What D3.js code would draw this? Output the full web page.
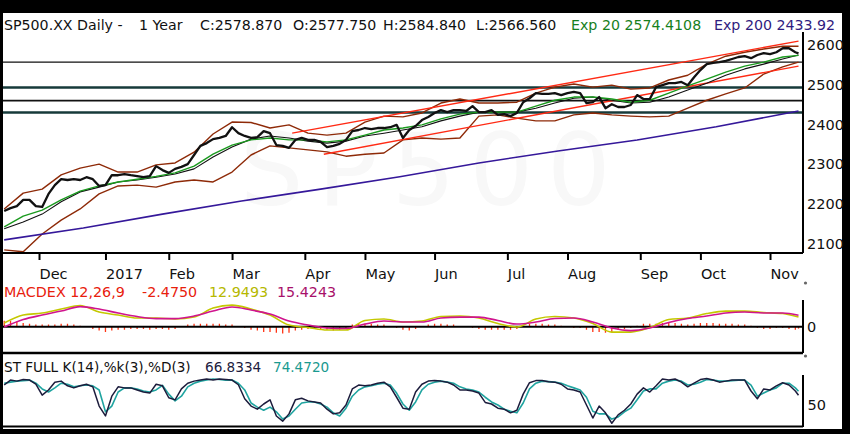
<!DOCTYPE html>
<html>
<head>
<meta charset="utf-8">
<script src="https://cdn.jsdelivr.net/npm/d3@7"></script>
<style>
  body { margin: 0; background: #000; }
  svg { display: block; }
  text { font-family: "DejaVu Sans", Verdana, sans-serif; }
</style>
</head>
<body>
<div id="vis"></div>
<script>
const W = 850;
const H = 434;
const LAST_DAY = 251; // trading days since Nov 15 2016

// x axis: month starts (trading-day index) and labels
const monthDays = [11, 32, 52, 72, 95, 114, 136, 159, 178, 201, 220, 242];
const monthLabels = ["Dec", "2017", "Feb", "Mar", "Apr", "May", "Jun", "Jul", "Aug", "Sep", "Oct", "Nov"];
const priceTicks = [2100, 2200, 2300, 2400, 2500, 2600];

// daily close, one value every 2 trading days (last one = final day)
const closes = [
  2182, 2189, 2194, 2210, 2210, 2194, 2192, 2225, 2247, 2262,
  2260, 2262, 2260, 2267, 2262, 2245, 2247, 2272, 2272, 2275,
  2272, 2270, 2267, 2270, 2295, 2285, 2278, 2288, 2293, 2300,
  2323, 2346, 2353, 2363, 2366, 2371, 2393, 2378, 2371, 2366,
  2368, 2383, 2378, 2348, 2346, 2341, 2361, 2366, 2361, 2361,
  2356, 2343, 2346, 2351, 2361, 2383, 2386, 2391, 2388, 2391,
  2391, 2393, 2399, 2366, 2386, 2396, 2411, 2419, 2429, 2436,
  2431, 2436, 2436, 2434, 2446, 2431, 2431, 2436, 2424, 2426,
  2421, 2429, 2456, 2466, 2479, 2477, 2477, 2479, 2474, 2479,
  2482, 2479, 2454, 2456, 2469, 2441, 2451, 2444, 2444, 2449,
  2474, 2464, 2464, 2494, 2499, 2504, 2504, 2507, 2499, 2519,
  2537, 2552, 2555, 2557, 2560, 2565, 2570, 2572, 2567, 2575,
  2580, 2577, 2582, 2592, 2592, 2582, 2579
];

// indicators read every 6 trading days
const bbUpper = [
  2187, 2227, 2237, 2273, 2290, 2300, 2280, 2280, 2298, 2303,
  2330, 2376, 2406, 2405, 2391, 2399, 2378, 2373, 2378, 2406,
  2421, 2419, 2429, 2454, 2464, 2454, 2454, 2456, 2479, 2494,
  2502, 2494, 2499, 2489, 2492, 2512, 2524, 2552, 2572, 2582,
  2590, 2597, 2597
];
const bbLower = [
  2084, 2079, 2124, 2159, 2187, 2225, 2245, 2247, 2242, 2255,
  2260, 2255, 2280, 2323, 2346, 2341, 2336, 2331, 2320, 2325,
  2328, 2361, 2366, 2363, 2366, 2421, 2424, 2416, 2409, 2409,
  2424, 2429, 2424, 2421, 2419, 2421, 2441, 2461, 2477, 2492,
  2527, 2545, 2557
];
const bbMid = [
  2137, 2154, 2174, 2205, 2230, 2242, 2255, 2260, 2267, 2275,
  2288, 2318, 2343, 2363, 2371, 2366, 2358, 2353, 2358, 2371,
  2378, 2386, 2394, 2409, 2421, 2431, 2431, 2431, 2441, 2454,
  2466, 2469, 2461, 2454, 2456, 2469, 2487, 2504, 2524, 2540,
  2552, 2565, 2575
];
const ema20 = [
  2142, 2169, 2184, 2210, 2232, 2245, 2255, 2262, 2269, 2278,
  2295, 2325, 2348, 2361, 2366, 2361, 2361, 2356, 2361, 2373,
  2386, 2391, 2399, 2414, 2426, 2431, 2431, 2431, 2446, 2461,
  2469, 2469, 2464, 2456, 2461, 2479, 2497, 2514, 2532, 2547,
  2557, 2570, 2574
];
const ema200Days = [0, 25, 50, 75, 100, 125, 150, 175, 200, 225, 251];
const ema200 = [2109, 2139, 2174, 2207, 2237, 2268, 2303, 2333, 2361, 2394, 2434];

// support / resistance levels and channel
const levels = [2557, 2493, 2460, 2430];
const channelUpper = [[91, 2378], [251, 2610]];
const channelLower = [[101, 2325], [251, 2547]];

// MACD (every 6 days) and histogram (every 2 days)
const macdLine = [
  4.9, 15.6, 18.3, 23.6, 28.3, 19.6, 15.6, 11.6, 11.6, 10.3,
  12.9, 24.9, 28.9, 23.6, 15.6, 2.3, -1.1, -4.4, -4.4, 8.3,
  10.3, 6.3, 7.6, 13.6, 14.3, 11.6, 4.3, -0.4, 10.3, 13.6,
  11.6, 4.3, -7.1, -7.1, -1.1, 9.6, 11.6, 17.6, 20.9, 20.9,
  18.9, 17.6, 12.9
];
const macdSignal = [
  -0.4, 9.6, 15.6, 20.9, 26.9, 23.6, 18.3, 13.6, 10.9, 10.9,
  14.3, 20.9, 26.3, 22.3, 16.9, 7.6, 2.3, -1.7, -2.4, 3.6,
  7.6, 6.3, 6.3, 11.6, 12.9, 12.9, 8.3, 3.6, 6.3, 10.9,
  11.6, 6.3, -1.7, -5.1, -1.7, 5.6, 10.9, 14.3, 18.3, 19.6,
  18.3, 18.3, 15.4
];
const macdHist = [
  8, 8, 7, 5, 4, 3, 3, 3, 3, 4,
  4, 3, 1.5, 0, -3, -5, -7, -5, -4, -4,
  -3, -3, -3, -4, -3, -3, -4, -3, 0, 3,
  4, 4, 4, 4, 4, 3, 3, 1, -1.5, -4,
  -5, -7, -7, -8, -9, -8, -5, -4, -3, -3,
  -3, -4, -5, -4, -1.5, 3, 4, 4, 4, 3,
  3, 1, -1.5, -4, -5, -3, 0, 3, 4, 4,
  3, 3, 1, 0, -1.5, -3, -4, -4, -4, -4,
  -4, -3, 1.5, 4, 4, 4, 3, 3, 1.5, 0,
  -1.5, -1.5, -4, -7, -7, -8, -7, -4, -3, -1.5,
  1.5, 4, 4, 4, 5, 5, 5, 4, 3, 4,
  5, 5, 5, 4, 4, 4, 3, 3, 1.5, -1.5,
  -3, -3, -1.5, -1.5, -3, -4, -2.5
];

// full stochastic (every 2 days)
const stochK = [
  86.5, 96, 94, 97, 96, 88, 67, 77, 92, 94,
  85, 81, 85, 88, 83, 46, 27, 65, 83, 81,
  81, 77, 73, 71, 88, 85, 62, 58, 79, 90,
  94, 96, 98, 96, 98, 97, 96, 87, 60, 46,
  40, 50, 58, 27, 17, 31, 58, 61, 56, 54,
  52, 40, 31, 33, 48, 79, 86.5, 85, 86.5, 90,
  92, 83, 63, 42, 40, 73, 88, 94, 95, 94,
  92, 86.5, 77, 77, 75, 71, 53, 50, 42, 40,
  33, 38, 69, 91, 95, 95, 93, 92, 88, 79,
  77, 73, 48, 23, 46, 33, 13, 29, 38, 50,
  69, 81, 73, 85, 98, 96, 98, 92, 83, 90,
  97, 99, 96, 92, 94, 96, 96, 96, 75, 60,
  79, 77, 85, 91, 86.5, 75, 66.8
];
const stochD = [
  90, 92, 94, 95, 96, 90, 79, 73, 81, 90,
  88, 83, 85, 86.5, 85, 77, 35, 46, 73, 81,
  81, 79, 75, 73, 77, 86, 69, 56, 65, 83,
  90, 94, 96, 98, 97, 96, 96, 90, 77, 52,
  44, 38, 44, 35, 21, 27, 40, 52, 54, 54,
  50, 44, 33, 27, 42, 65, 77, 83, 85, 88,
  90, 86.5, 71, 50, 38, 54, 77, 88, 92, 94,
  92, 90, 83, 79, 77, 73, 63, 54, 48, 40,
  36, 33, 52, 79, 90, 94, 93, 92, 90, 85,
  81, 77, 63, 36, 31, 31, 21, 25, 35, 42,
  58, 75, 79, 79, 90, 94, 96, 94, 86.5, 88,
  92, 97, 96, 94, 94, 95, 96, 96, 86.5, 65,
  71, 77, 81, 90, 90, 81, 74.5
];

// turn a sampled series into points on the trading-day axis
function toPoints(values, step) {
  return values.map((v, i) => ({ day: Math.min(i * step, LAST_DAY), v: v }));
}

function init() {
  const svg = d3
    .select("#vis")
    .append("svg")
    .attr("width", W)
    .attr("height", H);

  svg.append("rect").attr("width", W).attr("height", H).attr("fill", "#000");
  svg
    .append("rect")
    .attr("x", 3)
    .attr("y", 13)
    .attr("width", 839)
    .attr("height", 416)
    .attr("fill", "#fff");

  const x = d3.scaleLinear().domain([0, LAST_DAY]).range([4.2, 798.5]);
  const yPrice = d3.scaleLinear().domain([2076, 2633]).range([253, 32]);
  const yMacd = d3.scaleLinear().domain([-35, 35]).range([353, 300.5]);
  const yStoch = d3.scaleLinear().domain([0, 100]).range([430, 378]);

  const defs = svg.append("defs");
  const clip = (id, y0, y1) =>
    defs
      .append("clipPath")
      .attr("id", id)
      .append("rect")
      .attr("x", 3)
      .attr("y", y0)
      .attr("width", 800)
      .attr("height", y1 - y0);
  clip("clip-main", 32, 252);
  clip("clip-macd", 298, 352);
  clip("clip-stoch", 374, 425);
  // header text stops at the white frame
  defs
    .append("clipPath")
    .attr("id", "clip-frame")
    .append("rect")
    .attr("x", 3)
    .attr("y", 13)
    .attr("width", 839)
    .attr("height", 416);

  // faint watermark
  svg
    .append("text")
    .attr("x", 240)
    .attr("y", 205)
    .attr("font-size", 100)
    .attr("letter-spacing", 14)
    .attr("fill", "#f8f8f8")
    .text("SP500");

  // ---- header ----
  const header = [
    ["SP500.XX Daily -", 4, "#111"],
    ["1 Year", 139, "#111"],
    ["C:2578.870", 200, "#111"],
    ["O:2577.750", 293, "#111"],
    ["H:2584.840", 383, "#111"],
    ["L:2566.560", 476, "#111"],
    ["Exp 20 2574.4108", 571, "#17801c"],
    ["Exp 200 2433.92", 714, "#2f1c80"],
  ];
  svg
    .append("g")
    .attr("clip-path", "url(#clip-frame)")
    .selectAll(".hdr")
    .data(header)
    .enter()
    .append("text")
    .attr("class", "hdr")
    .attr("x", (d) => d[1])
    .attr("y", 30)
    .attr("font-size", 14.2)
    .attr("fill", (d) => d[2])
    .text((d) => d[0]);

  // ---- main price panel ----
  const main = svg.append("g").attr("clip-path", "url(#clip-main)");
  const priceLine = d3
    .line()
    .x((d) => x(d.day))
    .y((d) => yPrice(d.v));

  main
    .selectAll(".level")
    .data(levels)
    .enter()
    .append("line")
    .attr("x1", 3)
    .attr("x2", 803)
    .attr("y1", (d) => yPrice(d))
    .attr("y2", (d) => yPrice(d))
    .attr("stroke", (d, i) => (i % 2 ? "#163a3a" : "#111"))
    .attr("stroke-width", (d, i) => (i === 0 ? 1.2 : i === 2 ? 1.6 : 2.6));

  const addPath = (g, pts, lineFn, color, width) =>
    g
      .append("path")
      .attr("d", lineFn(pts))
      .attr("fill", "none")
      .attr("stroke", color)
      .attr("stroke-width", width)
      .attr("stroke-linejoin", "round");

  addPath(main, toPoints(bbUpper, 6), priceLine, "#8e2a08", 1.4);
  addPath(main, toPoints(bbLower, 6), priceLine, "#8e2a08", 1.4);
  addPath(
    main,
    ema200.map((v, i) => ({ day: ema200Days[i], v: v })),
    priceLine,
    "#35189a",
    1.6
  );
  [channelUpper, channelLower].forEach((c) =>
    addPath(main, c.map((p) => ({ day: p[0], v: p[1] })), priceLine, "#ff2a14", 1.4)
  );
  addPath(main, toPoints(bbMid, 6), priceLine, "#111", 1.1);
  addPath(main, toPoints(ema20, 6), priceLine, "#1a9a1e", 1.4);
  addPath(main, toPoints(closes, 2), priceLine, "#111", 2.3);

  // price axis (right)
  svg
    .append("line")
    .attr("x1", 803)
    .attr("x2", 803)
    .attr("y1", 32)
    .attr("y2", 253)
    .attr("stroke", "#000")
    .attr("stroke-width", 2);
  const yAxis = svg
    .append("g")
    .attr("transform", "translate(803,0)")
    .call(
      d3
        .axisRight(yPrice)
        .tickValues(priceTicks)
        .tickFormat(d3.format("d"))
        .tickSize(0)
        .tickPadding(4)
    );
  yAxis.select(".domain").remove();
  yAxis.selectAll("text").attr("font-size", 14.5).attr("fill", "#111").attr("font-family", null);

  // time axis
  svg
    .append("line")
    .attr("x1", 3)
    .attr("x2", 803)
    .attr("y1", 253)
    .attr("y2", 253)
    .attr("stroke", "#000")
    .attr("stroke-width", 2);
  const xAxis = svg
    .append("g")
    .attr("transform", "translate(0,253)")
    .call(
      d3
        .axisBottom(x)
        .tickValues(monthDays)
        .tickFormat((d, i) => monthLabels[i])
        .tickSize(7)
    );
  xAxis.select(".domain").remove();
  xAxis.selectAll("line").attr("stroke", "#000").attr("stroke-width", 2);
  xAxis
    .selectAll("text")
    .attr("text-anchor", "start")
    .attr("y", 16)
    .attr("font-size", 14.5)
    .attr("fill", "#111")
    .attr("font-family", null);

  // small panel handles
  [283, 356].forEach((cy) =>
    svg.append("circle").attr("cx", 805.5).attr("cy", cy).attr("r", 1.6).attr("fill", "#666")
  );

  // ---- MACD panel ----
  const macdParts = [
    ["MACDEX 12,26,9", 4, "#e8200c"],
    ["-2.4750", 142, "#e8200c"],
    ["12.9493", 209, "#b5b800"],
    ["15.4243", 277, "#a8106a"],
  ];
  svg
    .selectAll(".macdlbl")
    .data(macdParts)
    .enter()
    .append("text")
    .attr("class", "macdlbl")
    .attr("x", (d) => d[1])
    .attr("y", 297)
    .attr("font-size", 14.3)
    .attr("fill", (d) => d[2])
    .text((d) => d[0]);

  const macdG = svg.append("g").attr("clip-path", "url(#clip-macd)");
  macdG
    .selectAll(".bar")
    .data(toPoints(macdHist, 2))
    .enter()
    .append("line")
    .attr("x1", (d) => x(d.day))
    .attr("x2", (d) => x(d.day))
    .attr("y1", yMacd(0))
    .attr("y2", (d) => yMacd(d.v))
    .attr("stroke", "#ff3414")
    .attr("stroke-width", 1.3);
  macdG
    .append("line")
    .attr("x1", 3)
    .attr("x2", 803)
    .attr("y1", yMacd(0))
    .attr("y2", yMacd(0))
    .attr("stroke", "#000")
    .attr("stroke-width", 2);
  const macdLineFn = d3
    .line()
    .curve(d3.curveMonotoneX)
    .x((d) => x(d.day))
    .y((d) => yMacd(d.v));
  addPath(macdG, toPoints(macdLine, 6), macdLineFn, "#c4c800", 1.6);
  addPath(macdG, toPoints(macdSignal, 6), macdLineFn, "#d0148e", 1.6);

  svg
    .append("line")
    .attr("x1", 803)
    .attr("x2", 803)
    .attr("y1", 300)
    .attr("y2", 353)
    .attr("stroke", "#000")
    .attr("stroke-width", 2);
  svg
    .append("text")
    .attr("x", 807)
    .attr("y", yMacd(0) + 5.5)
    .attr("font-size", 14.5)
    .attr("fill", "#111")
    .text("0");
  svg
    .append("line")
    .attr("x1", 3)
    .attr("x2", 803)
    .attr("y1", 353)
    .attr("y2", 353)
    .attr("stroke", "#000")
    .attr("stroke-width", 2.5);

  // ---- stochastic panel ----
  const stParts = [
    ["ST FULL K(14),%k(3),%D(3)", 4, "#111"],
    ["66.8334", 205, "#1c1c40"],
    ["74.4720", 273, "#1a9a90"],
  ];
  svg
    .selectAll(".stlbl")
    .data(stParts)
    .enter()
    .append("text")
    .attr("class", "stlbl")
    .attr("x", (d) => d[1])
    .attr("y", 371.5)
    .attr("font-size", 13.6)
    .attr("fill", (d) => d[2])
    .text((d) => d[0]);

  const stG = svg.append("g").attr("clip-path", "url(#clip-stoch)");
  const stLine = d3
    .line()
    .x((d) => x(d.day))
    .y((d) => yStoch(d.v));
  addPath(stG, toPoints(stochD, 2), stLine, "#1fa4a0", 1.6);
  addPath(stG, toPoints(stochK, 2), stLine, "#1c1c3c", 1.5);

  svg
    .append("line")
    .attr("x1", 803)
    .attr("x2", 803)
    .attr("y1", 375)
    .attr("y2", 427)
    .attr("stroke", "#000")
    .attr("stroke-width", 2);
  svg
    .append("text")
    .attr("x", 807.5)
    .attr("y", yStoch(50) + 5.5)
    .attr("font-size", 14.5)
    .attr("fill", "#111")
    .text("50");
  svg
    .append("line")
    .attr("x1", 3)
    .attr("x2", 803)
    .attr("y1", 426.5)
    .attr("y2", 426.5)
    .attr("stroke", "#000")
    .attr("stroke-width", 2);
}

window.addEventListener("load", init);
</script>
</body>
</html>
